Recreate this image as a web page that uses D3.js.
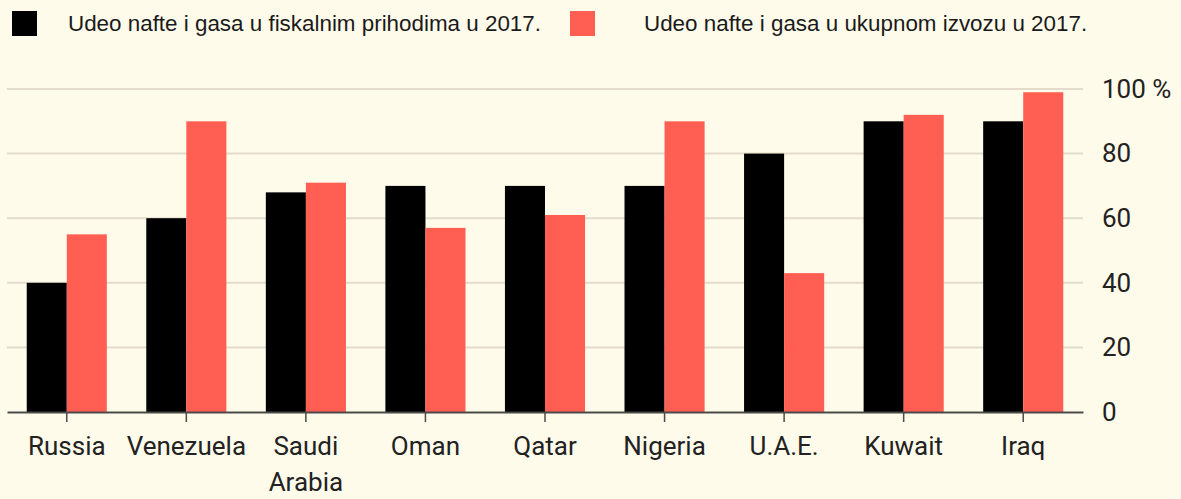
<!DOCTYPE html>
<html>
<head>
<meta charset="utf-8">
<script src="https://cdn.jsdelivr.net/npm/d3@7"></script>
<style>
  html, body { margin: 0; padding: 0; background: #fffbea; }
  svg { display: block; }
</style>
</head>
<body>
<svg id="chart"></svg>
<script>
// data
const countries = ['Russia', 'Venezuela', 'Saudi Arabia', 'Oman', 'Qatar', 'Nigeria', 'U.A.E.', 'Kuwait', 'Iraq'];
const fiscalShare = [40, 60, 68, 70, 70, 70, 80, 90, 90];   // black
const exportShare = [55, 90, 71, 57, 61, 90, 43, 92, 99];   // red
const seriesNames = ['Udeo nafte i gasa u fiskalnim prihodima u 2017.', 'Udeo nafte i gasa u ukupnom izvozu u 2017.'];
const yTicks = [0, 20, 40, 60, 80, 100];

const width = 1181, height = 499;
const colors = ['#000000', '#ff5f53'];
const margin = {top: 89, left: 7, right: 98, bottom: 87};

const svg = d3.select('#chart').attr('width', width).attr('height', height);
svg.append('rect').attr('width', width).attr('height', height).attr('fill', '#fffbea');

const rows = countries.map((c, i) => ({country: c, values: [fiscalShare[i], exportShare[i]]}));

const x = d3.scaleBand()
    .domain(countries)
    .range([margin.left, width - margin.right])
    .paddingInner(0.33)
    .paddingOuter(0.165);

const xSub = d3.scaleBand()
    .domain([0, 1])
    .range([0, x.bandwidth()]);

const y = d3.scaleLinear()
    .domain([0, 100])
    .range([height - margin.bottom, margin.top]);

// gridlines
svg.append('g')
    .selectAll('line')
    .data(yTicks.filter(d => d > 0))
    .join('line')
    .attr('x1', margin.left)
    .attr('x2', width - margin.right)
    .attr('y1', d => y(d))
    .attr('y2', d => y(d))
    .attr('stroke', '#e4dbcb')
    .attr('stroke-width', 2);

// bars
svg.append('g')
    .selectAll('g')
    .data(rows)
    .join('g')
    .attr('transform', d => `translate(${x(d.country)},0)`)
    .selectAll('rect')
    .data(d => d.values.map((v, k) => ({k, v})))
    .join('rect')
    .attr('x', d => xSub(d.k))
    .attr('width', xSub.bandwidth())
    .attr('y', d => y(d.v))
    .attr('height', d => y(0) - y(d.v))
    .attr('fill', d => colors[d.k]);

// x axis (baseline + ticks at group centres)
const xAxis = svg.append('g')
    .attr('transform', `translate(0,${y(0)})`)
    .call(d3.axisBottom(x).tickSize(10).tickSizeOuter(0).tickPadding(15));
xAxis.select('.domain').attr('stroke', '#4a4a48').attr('stroke-width', 2);
xAxis.selectAll('.tick line').attr('stroke', '#4a4a48').attr('stroke-width', 1.5);
xAxis.selectAll('.tick text')
    .attr('fill', '#222')
    .style('font-family', 'Roboto, "Liberation Sans", sans-serif')
    .style('font-size', '26px')
    .each(function (d) {
        const words = d.split(' ');
        if (words.length > 1) {
            const t = d3.select(this).text(null);
            words.forEach((w, i) => {
                t.append('tspan').attr('x', 0).attr('dy', i === 0 ? '0.71em' : '1.38em').text(w);
            });
        }
    });

// y axis labels on the right
const yAxis = svg.append('g')
    .attr('transform', `translate(${width - margin.right},0)`)
    .call(d3.axisRight(y).tickValues(yTicks).tickSize(0).tickPadding(19)
        .tickFormat(d => d === 100 ? '100 %' : d));
yAxis.select('.domain').remove();
yAxis.selectAll('.tick text')
    .attr('fill', '#222')
    .style('font-family', 'Roboto, "Liberation Sans", sans-serif')
    .style('font-size', '26px');

// legend
const legendX = [12, 570];
const legend = svg.append('g')
    .selectAll('g')
    .data(seriesNames)
    .join('g')
    .attr('transform', (d, i) => `translate(${legendX[i]},11)`);
legend.append('rect')
    .attr('width', 25)
    .attr('height', 25)
    .attr('fill', (d, i) => colors[i]);
legend.append('text')
    .attr('x', (d, i) => i === 0 ? 56 : 74)
    .attr('y', 20)
    .attr('fill', '#1a1a1a')
    .style('font-family', '"Liberation Sans Narrow", "Arial Narrow", sans-serif')
    .style('font-size', '22.4px')
    .text(d => d);
</script>
</body>
</html>
